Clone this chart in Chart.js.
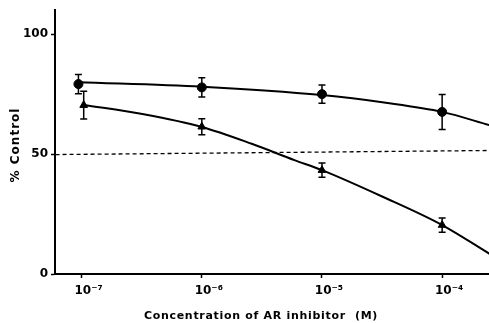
<!DOCTYPE html>
<html>
<head>
<meta charset="utf-8">
<script src="https://cdn.jsdelivr.net/npm/chart.js@4"></script>
<style>
  html, body { margin: 0; padding: 0; background: #fff; }
  #wrap { width: 489px; height: 323px; position: relative; }
</style>
</head>
<body>
<div id="wrap"><canvas id="inhibChart"></canvas></div>
<script>
// AR inhibitor dose-response, two compounds (circles / triangles)
const doseTicks = [1e-7, 1e-6, 1e-5, 1e-4];
const doseLabels = ['10\u207B\u2077', '10\u207B\u2076', '10\u207B\u2075', '10\u207B\u2074'];
const pctTicks = [0, 50, 100];

const circleDose = [9.4e-8, 1e-6, 1e-5, 1e-4];
const circleMean = [79.2, 77.8, 75.0, 67.6];
const circleErr = [4.0, 4.0, 3.8, 7.3];

const triDose = [1.04e-7, 1e-6, 1e-5, 1e-4];
const triMean = [70.4, 61.4, 43.3, 20.4];
const triErr = [5.8, 3.3, 3.0, 3.0];

// fitted curves as traced
const circleFitDose = [9.4e-8, 1e-6, 1e-5, 3.4e-5, 1e-4, 2.5e-4];
const circleFitPct = [80.0, 78.1, 74.6, 71.4, 67.6, 62.0];
const triFitDose = [1.04e-7, 3.2e-7, 1e-6, 2.6e-6, 5.9e-6, 1e-5, 3.2e-5, 1e-4, 2.5e-4];
const triFitPct = [70.5, 66.7, 61.3, 54.3, 47.5, 43.3, 32.2, 20.4, 8.3];

// 50 % reference line
const xMin = Math.pow(10, -7.217);
const xMax = Math.pow(10, -3.61);
const refDose = [xMin, xMax];
const refPct = [49.8, 51.5];

const pts = (xs, ys) => xs.map((x, i) => ({ x: x, y: ys[i] }));
const FONT = 'DejaVu Sans';

const errorBars = {
  id: 'errorBars',
  afterDatasetsDraw(chart) {
    const { ctx, scales: { x, y } } = chart;
    ctx.save();
    ctx.strokeStyle = '#000';
    ctx.lineWidth = 1.5;
    chart.data.datasets.forEach(ds => {
      if (!ds.errors) return;
      ds.data.forEach((p, i) => {
        const px = x.getPixelForValue(p.x);
        const top = y.getPixelForValue(p.y + ds.errors[i]);
        const bot = y.getPixelForValue(p.y - ds.errors[i]);
        ctx.beginPath();
        ctx.moveTo(px, top); ctx.lineTo(px, bot);
        ctx.moveTo(px - 3.5, top); ctx.lineTo(px + 3.5, top);
        ctx.moveTo(px - 3.5, bot); ctx.lineTo(px + 3.5, bot);
        ctx.stroke();
      });
    });
    ctx.restore();
  }
};

const axisTitles = {
  id: 'axisTitles',
  afterDraw(chart) {
    const ctx = chart.ctx;
    ctx.save();
    ctx.fillStyle = '#000';
    ctx.textAlign = 'center';
    ctx.textBaseline = 'middle';
    ctx.font = 'bold 11px ' + FONT;
    ctx.letterSpacing = '0.7px';
    ctx.fillText('Concentration of AR inhibitor  (M)', 261, 316);
    ctx.font = 'bold 12px ' + FONT;
    ctx.letterSpacing = '1px';
    ctx.translate(16, 145);
    ctx.rotate(-Math.PI / 2);
    ctx.fillText('% Control', 0, 0);
    ctx.restore();
  }
};

new Chart(document.getElementById('inhibChart'), {
  type: 'scatter',
  data: {
    datasets: [
      {
        data: pts(refDose, refPct),
        showLine: true,
        borderColor: '#000',
        borderWidth: 1.3,
        borderDash: [4, 3],
        pointRadius: 0
      },
      {
        data: pts(circleFitDose, circleFitPct),
        showLine: true,
        borderColor: '#000',
        borderWidth: 2,
        cubicInterpolationMode: 'monotone',
        pointRadius: 0
      },
      {
        data: pts(triFitDose, triFitPct),
        showLine: true,
        borderColor: '#000',
        borderWidth: 2,
        cubicInterpolationMode: 'monotone',
        pointRadius: 0
      },
      {
        data: pts(circleDose, circleMean),
        errors: circleErr,
        pointStyle: 'circle',
        pointRadius: 4.5,
        backgroundColor: '#000',
        borderColor: '#000'
      },
      {
        data: pts(triDose, triMean),
        errors: triErr,
        pointStyle: 'triangle',
        pointRadius: 4.5,
        backgroundColor: '#000',
        borderColor: '#000'
      }
    ]
  },
  options: {
    responsive: true,
    maintainAspectRatio: false,
    animation: false,
    layout: { autoPadding: false, padding: { top: 10, right: 0, left: 0, bottom: 0 } },
    plugins: {
      legend: { display: false },
      tooltip: { enabled: false }
    },
    scales: {
      x: {
        type: 'logarithmic',
        min: xMin,
        max: xMax,
        afterBuildTicks: s => { s.ticks = doseTicks.map(v => ({ value: v })); },
        afterFit: s => { s.height = 49; s.paddingLeft = 0; s.paddingRight = 0; },
        grid: { drawOnChartArea: false, drawTicks: true, tickLength: 4, color: '#000', tickWidth: 1.5 },
        border: { color: '#000', width: 2 },
        ticks: {
          color: '#000',
          padding: 6,
          labelOffset: 7,
          maxRotation: 0,
          font: { family: FONT, size: 12, weight: 'bold' },
          callback: (v, i) => doseLabels[i]
        }
      },
      y: {
        min: 0,
        max: 110,
        afterBuildTicks: s => { s.ticks = pctTicks.map(v => ({ value: v })); },
        afterFit: s => { s.width = 55; },
        grid: { drawOnChartArea: false, drawTicks: true, tickLength: 4, color: '#000', tickWidth: 1.5 },
        border: { color: '#000', width: 2 },
        ticks: {
          color: '#000',
          padding: 3,
          font: { family: FONT, size: 12, weight: 'bold' }
        }
      }
    }
  },
  plugins: [errorBars, axisTitles]
});
</script>
</body>
</html>
